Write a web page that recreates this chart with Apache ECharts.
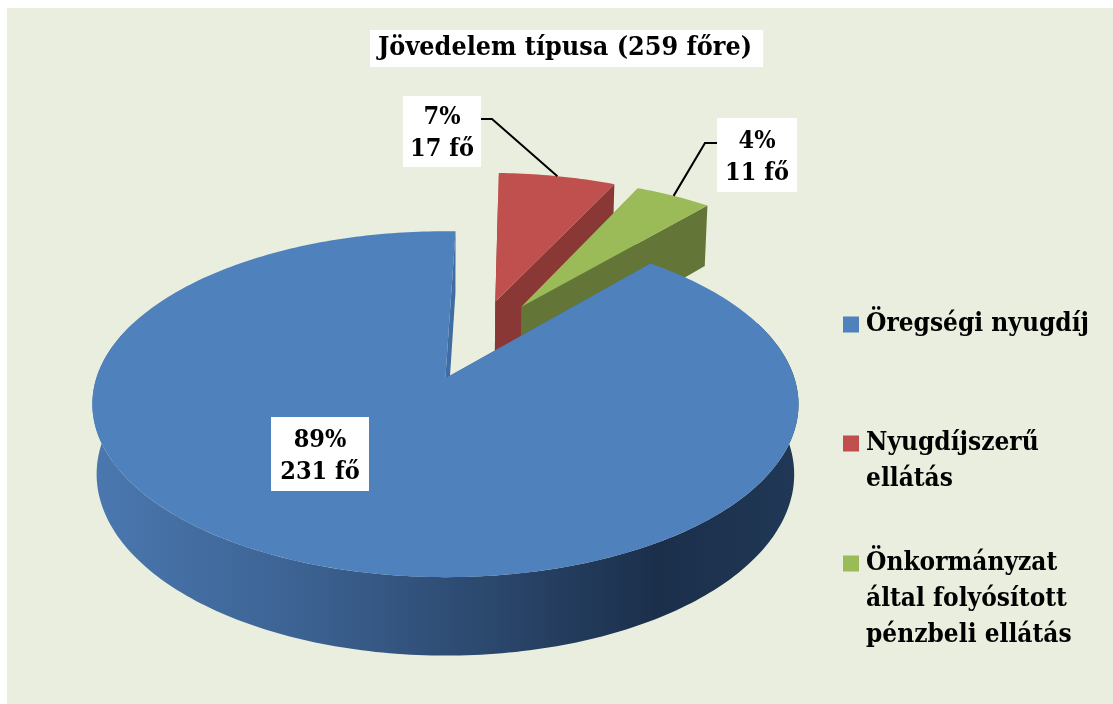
<!DOCTYPE html>
<html>
<head>
<meta charset="utf-8">
<title>Jövedelem típusa</title>
<script src="https://cdn.jsdelivr.net/npm/echarts@6/dist/echarts.min.js"></script>
<style>
html,body{margin:0;padding:0;background:#fff;}
#main{width:1113px;height:704px;}
</style>
</head>
<body>
<div id="main"></div>
<script>
// adatok
var chartTitle = 'Jövedelem típusa (259 főre)';
var categories = ['Öregségi nyugdíj', 'Nyugdíjszerű\nellátás', 'Önkormányzat\náltal folyósított\npénzbeli ellátás'];
var counts = [231, 17, 11];
var percents = ['89%', '7%', '4%'];

var FONT = '"DejaVu Serif Condensed", "Liberation Serif", serif';

// szeletek szinei: teteje, oldala
var topColors = ['#4F81BD', '#C0504D', '#9BBB59'];
var sideColors = ['#3F6CA2', '#8A3836', '#637537'];
var wallGradient = {
  type: 'linear', x: 90, y: 0, x2: 800, y2: 0, global: true,
  colorStops: [
    {offset: 0, color: '#4A78B0'},
    {offset: 0.3, color: '#3C6292'},
    {offset: 0.52, color: '#2E4C73'},
    {offset: 0.8, color: '#1B2F4B'},
    {offset: 1, color: '#203856'}
  ]
};

// cimke dobozok [x, y, szelesseg, magassag]
var labelBoxes = [[271, 417, 98, 74], [403, 96, 78, 71], [717, 118, 80, 74]];
// vonal kezdete a dobozbol, toresponttal; az elso szeletnek nincs
var leaderStarts = [null, [[481, 119], [492, 119]], [[717, 143], [705, 143]]];
var legendTops = [323, 442, 562];

// perspektiva a 3D korhoz
var cx = 443, cy = 378, A = 349, B = 169, D = 70, k = 0.15, m = 0.012;
var radius = 1, explode = 0.255, center = [0.1, -0.236];
var firstAngle = 40.9;

function project(u, v, z) {
  var w = 1 - k * v + m * z;
  return [cx + A * u / w, cy + (B * v + D * z) / w];
}

// szog a 12 oratol az ora jarasa szerint, fokban
function planePoint(apex, deg) {
  var a = deg * Math.PI / 180;
  return [apex[0] + radius * Math.sin(a), apex[1] - radius * Math.cos(a)];
}

function arcPoints(apex, from, to, z) {
  var pts = [];
  var n = Math.max(2, Math.ceil(Math.abs(to - from)));
  for (var i = 0; i <= n; i++) {
    var p = planePoint(apex, from + (to - from) * i / n);
    pts.push(project(p[0], p[1], z));
  }
  return pts;
}

function renderSlice(params, api) {
  var idx = params.seriesIndex;
  var total = counts.reduce(function (s, c) { return s + c; }, 0);
  var before = api.value(1);
  var start = firstAngle + before / total * 360;
  var end = start + api.value(0) / total * 360;
  var mid = (start + end) / 2;
  var a = mid * Math.PI / 180;
  var apex = [center[0] + explode * Math.sin(a), center[1] - explode * Math.cos(a)];
  var top0 = project(apex[0], apex[1], 0), bot0 = project(apex[0], apex[1], 1);
  var children = [];

  function wall(deg) {
    var p = planePoint(apex, deg);
    children.push({
      type: 'polygon',
      shape: {points: [top0, project(p[0], p[1], 0), project(p[0], p[1], 1), bot0]},
      style: {fill: sideColors[idx]}
    });
  }
  wall(start);
  wall(end);

  // kulso fal, csak az elulso resz latszik
  var from = Math.max(start, 70), to = Math.min(end, 290);
  if (to > from) {
    children.push({
      type: 'polygon',
      shape: {points: arcPoints(apex, from, to, 0).concat(arcPoints(apex, to, from, 1))},
      style: {fill: wallGradient}
    });
  }

  // teteje
  children.push({
    type: 'polygon',
    shape: {points: [top0].concat(arcPoints(apex, start, end, 0))},
    style: {fill: topColors[idx]}
  });

  // vezeto vonal
  if (leaderStarts[idx]) {
    var q = planePoint(apex, mid);
    children.push({
      type: 'polyline',
      shape: {points: leaderStarts[idx].concat([project(q[0], q[1], 0)])},
      style: {fill: 'none', stroke: '#000', lineWidth: 2}
    });
  }

  // cimke
  var box = labelBoxes[idx];
  children.push({
    type: 'rect',
    shape: {x: box[0], y: box[1], width: box[2], height: box[3]},
    style: {fill: '#fff'}
  });
  children.push({
    type: 'text',
    x: box[0] + box[2] / 2,
    y: box[1] + box[3] / 2 + 2,
    style: {
      text: percents[idx] + '\n' + api.value(0) + ' fő',
      font: 'bold 25px ' + FONT,
      lineHeight: 32,
      fill: '#000',
      align: 'center',
      verticalAlign: 'middle'
    }
  });
  return {type: 'group', children: children};
}

var seriesList = [], legendList = [], sum = 0;
// piros, zold kerul hatra, a kek legelore
var zOrder = [3, 1, 2];
for (var i = 0; i < categories.length; i++) {
  seriesList.push({
    type: 'custom',
    name: categories[i],
    coordinateSystem: 'none',
    z: zOrder[i],
    itemStyle: {color: topColors[i]},
    encode: {value: 0},
    silent: true,
    renderItem: renderSlice,
    data: [[counts[i], sum]]
  });
  sum += counts[i];
  var lines = categories[i].split('\n').length;
  legendList.push({
    data: [categories[i]],
    left: 843,
    top: legendTops[i] - 18 * (2 * lines - 1),
    padding: 0,
    orient: 'vertical',
    icon: 'rect',
    itemWidth: 16,
    itemHeight: 16,
    selectedMode: false,
    formatter: function (name) {
      // ures sorok, hogy a jel az elso sorhoz alljon
      var n = name.split('\n').length;
      return new Array(n).join('\n') + name;
    },
    textStyle: {
      fontFamily: FONT,
      fontWeight: 'bold',
      fontSize: 26,
      lineHeight: 36,
      color: '#000',
      padding: [3, 0, 0, 2]
    }
  });
}

var myChart = echarts.init(document.getElementById('main'), null, {renderer: 'canvas'});
var option = {
  animation: false,
  backgroundColor: '#fff',
  title: {
    text: chartTitle,
    left: 370,
    top: 30,
    padding: [3, 11, 3, 8],
    backgroundColor: '#fff',
    textStyle: {fontFamily: FONT, fontWeight: 'bold', fontSize: 26.7, lineHeight: 31, color: '#000'}
  },
  legend: legendList,
  graphic: [{
    type: 'rect',
    z: -1,
    silent: true,
    shape: {x: 7, y: 8, width: 1106, height: 696},
    style: {fill: '#EAEEDE'}
  }],
  series: seriesList
};
myChart.setOption(option);
</script>
</body>
</html>
